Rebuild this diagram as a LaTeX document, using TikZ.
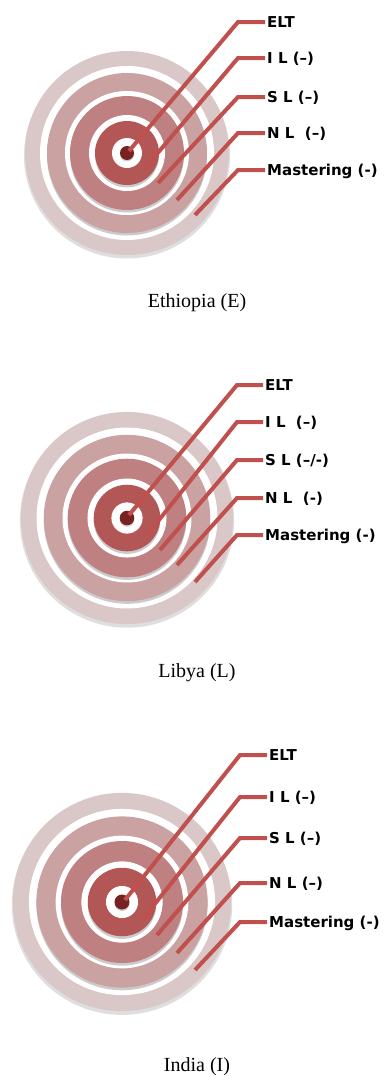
\documentclass[tikz,border=0pt]{standalone}
\usepackage{fontspec}
\setmainfont{Liberation Serif}
\newfontfamily\lblfont{DejaVu Sans}
\definecolor{leadc}{RGB}{192,80,77}
\definecolor{bandA}{RGB}{218,199,199}
\definecolor{bandB}{RGB}{203,162,162}
\definecolor{bandC}{RGB}{190,128,128}
\definecolor{bandD}{RGB}{179,86,86}
\definecolor{dotc}{RGB}{118,34,34}
\newcommand\drawtarget[3]{%
  \begin{scope}[shift={(#1,#2)},scale=#3]
    \fill[black!25,opacity=.5] (0,2.5) circle (103);
    \fill[bandA] (0,0) circle (102);
    \fill[white] (0,0) circle (87);
    \fill[black!45,opacity=.45] (0,2.5) circle (80);
    \fill[bandB] (0,0) circle (80);
    \fill[white] (0,0) circle (62);
    \fill[black!45,opacity=.45] (0,2.5) circle (57);
    \fill[bandC] (0,0) circle (57);
    \fill[white] (0,0) circle (38);
    \fill[black!45,opacity=.45] (0,2.5) circle (32);
    \fill[bandD] (0,0) circle (32);
    \fill[white] (0,0) circle (15);
    \fill[black!40,opacity=.45] (0,1.5) circle (7);
    \fill[dotc] (0,0) circle (7);
  \end{scope}}
\tikzset{
  leader/.style={draw=leadc,line width=4pt,line join=miter},
  lbl/.style={anchor=west,inner xsep=2pt,inner ysep=0pt,text height=11pt,text depth=0pt,
    font=\lblfont\bfseries\fontsize{15}{18}\selectfont},
  captxt/.style={inner sep=0pt,font=\fontsize{20}{24}\selectfont}
}
\begin{document}
\begin{tikzpicture}[x=1pt,y=-1pt]
\useasboundingbox (0,0) rectangle (387,1077);
\fill[white] (0,0) rectangle (387,1077);

% ---------- Ethiopia ----------
\drawtarget{127}{153}{1}
\coordinate (E-s1) at (129,151); \coordinate (E-k1) at (238,22);
\coordinate (E-s2) at (145,168); \coordinate (E-k2) at (238,58);
\coordinate (E-s3) at (158,183); \coordinate (E-k3) at (238,97);
\coordinate (E-s4) at (177,200); \coordinate (E-k4) at (238,133);
\coordinate (E-s5) at (195,215); \coordinate (E-k5) at (238,170);
\node[lbl] (E-l1) at (265,22) {ELT};
\node[lbl] (E-l2) at (265,58) {I L (–)};
\node[lbl] (E-l3) at (265,97) {S L (–)};
\node[lbl] (E-l4) at (265,133) {N L\ \ (–)};
\node[lbl] (E-l5) at (265,170) {Mastering (-)};
\foreach \i in {1,...,5}{\draw[leader] (E-s\i) -- (E-k\i) -- (E-l\i.west);}
\node[captxt] (E-cap) at (197,303) {Ethiopia (E)};

% ---------- Libya ----------
\drawtarget{127}{518}{1.04}
\coordinate (L-s1) at (129,515); \coordinate (L-k1) at (237,385);
\coordinate (L-s2) at (147,535); \coordinate (L-k2) at (237,422);
\coordinate (L-s3) at (160,550); \coordinate (L-k3) at (237,460);
\coordinate (L-s4) at (177,565); \coordinate (L-k4) at (237,498);
\coordinate (L-s5) at (195,582); \coordinate (L-k5) at (237,535);
\node[lbl] (L-l1) at (263,385) {ELT};
\node[lbl] (L-l2) at (263,422) {I L\ \ (–)};
\node[lbl] (L-l3) at (263,460) {S L (–/-)};
\node[lbl] (L-l4) at (263,498) {N L\ \ (-)};
\node[lbl] (L-l5) at (263,535) {Mastering (-)};
\foreach \i in {1,...,5}{\draw[leader] (L-s\i) -- (L-k\i) -- (L-l\i.west);}
\node[captxt] (L-cap) at (197,673) {Libya (L)};

% ---------- India ----------
\drawtarget{122}{902}{1.07}
\coordinate (I-s1) at (125,900); \coordinate (I-k1) at (240,755);
\coordinate (I-s2) at (142,920); \coordinate (I-k2) at (240,797);
\coordinate (I-s3) at (157,935); \coordinate (I-k3) at (240,838);
\coordinate (I-s4) at (177,953); \coordinate (I-k4) at (240,883);
\coordinate (I-s5) at (195,970); \coordinate (I-k5) at (240,922);
\node[lbl] (I-l1) at (267,755) {ELT};
\node[lbl] (I-l2) at (267,797) {I L (–)};
\node[lbl] (I-l3) at (267,838) {S L (–)};
\node[lbl] (I-l4) at (267,883) {N L (–)};
\node[lbl] (I-l5) at (267,922) {Mastering (-)};
\foreach \i in {1,...,5}{\draw[leader] (I-s\i) -- (I-k\i) -- (I-l\i.west);}
\node[captxt] (I-cap) at (197,1067) {India (I)};
\end{tikzpicture}
\end{document}
